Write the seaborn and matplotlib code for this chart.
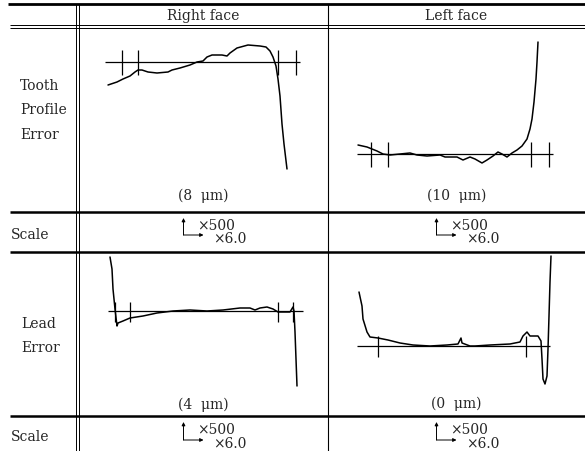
import matplotlib
matplotlib.use("Agg")
import matplotlib.pyplot as plt
import pandas as pd
import seaborn as sns

# measured traces: x = position along the cell, y = deviation from reference line (up positive)
profile_right_x = [29, 38, 44, 51, 56, 59, 63, 69, 78, 89, 93, 101, 111, 118, 124, 128,
                   133, 143, 148, 151, 158, 169, 181, 187, 191, 194, 197, 199, 201, 203, 205, 208]
profile_right_y = [-23, -20, -17, -14, -10, -8, -8, -10, -11, -10, -8, -6, -3, 0, 1, 5,
                   7, 7, 6, 9, 14, 17, 16, 15, 11, 5, -4, -17, -34, -62, -82, -107]
profile_right_ticks = [43, 59, 199, 217]

profile_left_x = [30, 39, 49, 55, 62, 72, 82, 89, 99, 112, 117, 129, 135, 142, 147, 154,
                  159, 165, 170, 174, 179, 184, 189, 194, 199, 202, 204, 206, 208, 209, 210]
profile_left_y = [9, 7, 3, 0, -1, 0, 1, -1, -2, -1, -3, -3, -6, -3, -5, -9,
                  -6, -2, 2, 0, -3, 1, 4, 8, 15, 25, 35, 52, 75, 92, 112]
profile_left_ticks = [43, 60, 203, 221]

lead_right_x = [31, 33, 34, 36, 38, 39, 44, 51, 64, 78, 94, 111, 128, 144, 161, 171,
                176, 181, 188, 194, 199, 204, 211, 214, 215, 216, 217, 218]
lead_right_y = [54, 42, 22, 2, -15, -12, -10, -7, -5, -2, 0, 1, 0, 1, 3, 3,
                1, 3, 4, 2, -1, -1, -1, 4, 0, -21, -48, -75]
lead_right_ticks = [36, 51, 199, 214]

lead_left_x = [31, 34, 35, 39, 42, 50, 60, 72, 85, 102, 119, 130, 133, 134, 142, 147,
               162, 182, 192, 195, 199, 202, 210, 213, 214, 215, 217, 219, 220, 221, 222, 223]
lead_left_y = [54, 40, 27, 14, 9, 8, 6, 3, 1, 0, 1, 2, 8, 3, 0, 0,
               1, 2, 4, 10, 14, 10, 10, 5, -13, -33, -38, -30, -3, 30, 64, 90]
lead_left_ticks = [50, 198]

columns = ["Right face", "Left face"]
profile_notes = ["(8  μm)", "(10  μm)"]
lead_notes = ["(4  μm)", "(0  μm)"]
scale_up = "×500"
scale_right = "×6.0"

W, H = 585, 452
COL_X = [(79, 328), (328, 585)]
PROFILE_ROW = (29, 213)
LEAD_ROW = (253, 417)

sns.set_style("white")
plt.rcParams["font.family"] = ["DejaVu Serif"]
plt.rcParams["font.size"] = 10

fig = plt.figure(figsize=(W / 100, H / 100), dpi=100)
ax = fig.add_axes([0, 0, 1, 1])
ax.set_xlim(0, W)
ax.set_ylim(H, 0)
ax.axis("off")

# table rules
ax.hlines(5, 8, W, color="black", lw=2.0)
ax.hlines([26, 29], 10, W, color="black", lw=0.7)
ax.hlines([213, 253, 417], 10, W, color="black", lw=1.8)
ax.vlines([76, 79], 5, H, color="black", lw=0.7)
ax.vlines(328, 5, H, color="black", lw=0.8)

for (x0, x1), name in zip(COL_X, columns):
    ax.text((x0 + x1) / 2, 16, name, ha="center", va="center")

for label, y in zip(["Tooth", "Profile", "Error"], [86, 110, 135]):
    ax.text(20, y, label, ha="left", va="center")
for label, y in zip(["Lead", "Error"], [324, 348]):
    ax.text(21, y, label, ha="left", va="center")
for y in [235, 437]:
    ax.text(11, y, "Scale", ha="left", va="center")


def draw_scale(cx, top, corner):
    """Draw the magnification arrows with their labels."""
    ax.annotate("", xy=(cx, top), xytext=(cx, corner),
                arrowprops=dict(arrowstyle="-|>", lw=0.7, color="black",
                                mutation_scale=5, shrinkA=0, shrinkB=0))
    ax.annotate("", xy=(cx + 20, corner), xytext=(cx, corner),
                arrowprops=dict(arrowstyle="-|>", lw=0.7, color="black",
                                mutation_scale=5, shrinkA=0, shrinkB=0))
    ax.text(cx + 14, top + 7, scale_up, ha="left", va="center")
    ax.text(cx + 30, corner + 3, scale_right, ha="left", va="center")


for (x0, x1) in COL_X:
    cx = (x0 + x1) / 2 - 20
    draw_scale(cx, 219, 236)
    draw_scale(cx, 423, 441)


def draw_trace(col, row, base_px, xs, ys, span, ticks, up, down, note, note_y):
    """Draw one recorder trace inside a table cell."""
    x0, x1 = COL_X[col]
    y0, y1 = row
    pax = fig.add_axes([x0 / W, 1 - y1 / H, (x1 - x0) / W, (y1 - y0) / H])
    df = pd.DataFrame({"x": xs, "y": ys})
    sns.lineplot(data=df, x="x", y="y", sort=False, estimator=None,
                 color="black", lw=1.1, ax=pax)
    pax.hlines(0, span[0], span[1], color="black", lw=0.9)
    pax.vlines(ticks, -down, up, color="black", lw=0.9)
    pax.set_xlim(0, x1 - x0)
    pax.set_ylim(-(y1 - base_px), base_px - y0)
    pax.axis("off")
    ax.text((x0 + x1) / 2, note_y, note, ha="center", va="center")


draw_trace(0, PROFILE_ROW, 63, profile_right_x, profile_right_y, (26, 221),
           profile_right_ticks, 12, 13, profile_notes[0], 196)
draw_trace(1, PROFILE_ROW, 155, profile_left_x, profile_left_y, (29, 225),
           profile_left_ticks, 12, 13, profile_notes[1], 196)
draw_trace(0, LEAD_ROW, 312, lead_right_x, lead_right_y, (29, 224),
           lead_right_ticks, 9, 11, lead_notes[0], 405)
draw_trace(1, LEAD_ROW, 347, lead_left_x, lead_left_y, (29, 222),
           lead_left_ticks, 10, 11, lead_notes[1], 404)

fig.savefig("out.png", dpi=100)
